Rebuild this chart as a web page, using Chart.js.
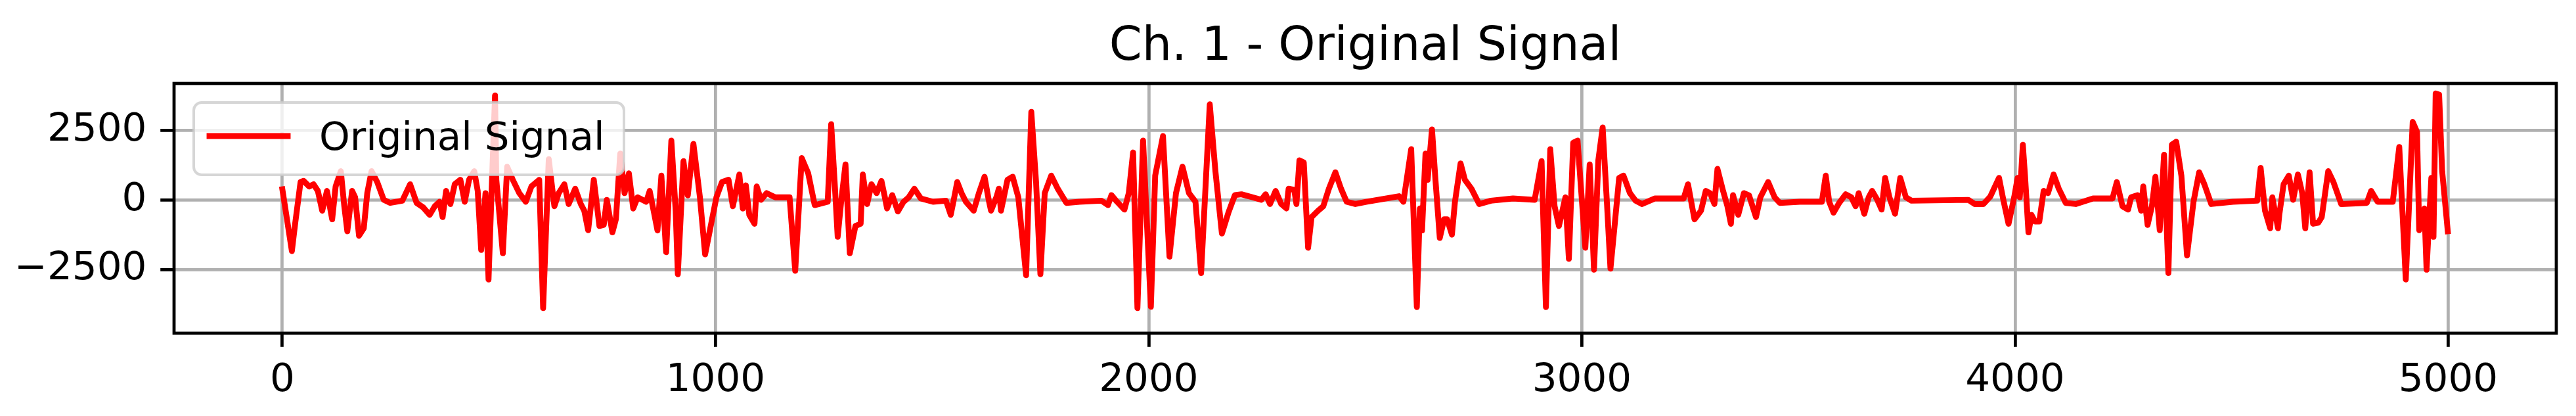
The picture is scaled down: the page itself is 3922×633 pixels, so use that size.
<!DOCTYPE html>
<html><head><meta charset="utf-8">
<script src="https://cdn.jsdelivr.net/npm/chart.js@4/dist/chart.umd.min.js"></script>
<style>html,body{margin:0;padding:0;background:#fff;overflow:hidden}#wrap{width:3922px;height:633px;position:relative}</style>
</head><body><div id="wrap"><canvas id="c" width="3922" height="633"></canvas></div>
<script>
const titleText = 'Ch. 1 - Original Signal';
const seriesLabel = 'Original Signal';
const xTicks = [0, 1000, 2000, 3000, 4000, 5000];
const yTicks = [-2500, 0, 2500];
const sampleIndex = [0,22,30,42,49,62,72,82,92,103,115,123,135,143,150,161,168,177,188,196,206,219,234,249,277,295,310,325,340,352,363,370,378,388,398,411,421,431,443,451,459,469,476,484,491,494,509,519,532,547,562,575,593,602,615,628,638,651,661,676,689,697,706,719,732,742,749,762,770,780,790,800,810,820,840,848,858,866,875,886,898,908,913,926,936,949,964,976,992,1002,1015,1030,1040,1055,1063,1070,1078,1090,1095,1105,1118,1138,1171,1184,1199,1214,1229,1259,1267,1275,1282,1290,1300,1310,1323,1335,1340,1350,1360,1372,1383,1391,1396,1408,1421,1434,1446,1459,1474,1502,1532,1543,1550,1558,1568,1578,1596,1608,1621,1631,1636,1649,1654,1659,1674,1686,1699,1717,1729,1740,1750,1760,1775,1790,1810,1840,1891,1906,1914,1927,1944,1954,1964,1974,1987,2005,2015,2033,2048,2063,2078,2093,2108,2121,2141,2154,2169,2184,2199,2214,2240,2260,2270,2280,2293,2306,2318,2323,2336,2341,2348,2358,2368,2376,2391,2403,2416,2431,2444,2457,2477,2502,2578,2588,2606,2619,2626,2631,2639,2644,2654,2662,2672,2682,2689,2700,2707,2720,2730,2745,2763,2790,2841,2891,2907,2917,2927,2937,2947,2962,2970,2980,2990,3008,3018,3028,3038,3048,3058,3066,3076,3086,3096,3111,3124,3139,3169,3235,3245,3260,3275,3286,3296,3306,3313,3326,3336,3344,3349,3361,3374,3386,3402,3412,3430,3445,3457,3503,3554,3563,3571,3581,3594,3609,3622,3632,3639,3652,3662,3670,3682,3692,3700,3710,3723,3735,3748,3761,3892,3907,3927,3943,3963,3973,3985,3998,4006,4011,4018,4023,4031,4038,4046,4056,4066,4076,4089,4101,4117,4140,4180,4225,4235,4248,4261,4268,4283,4291,4296,4306,4316,4324,4334,4344,4354,4362,4372,4384,4397,4412,4425,4437,4453,4503,4559,4567,4577,4589,4594,4607,4610,4620,4632,4642,4653,4663,4670,4680,4688,4700,4708,4723,4735,4753,4812,4822,4837,4872,4887,4902,4918,4928,4933,4945,4950,4961,4966,4971,4979,4986,4999];
const signalValues = [380,-1840,-800,640,680,480,560,320,-390,320,-700,480,1030,-230,-1130,320,90,-1290,-1020,240,1030,640,0,-110,-30,560,-110,-270,-540,-230,-70,-620,320,-150,560,720,-70,720,1030,320,-1800,240,-2860,720,3750,720,-1920,1190,720,240,-70,480,720,-3890,1460,-230,240,560,-150,400,-150,-390,-1090,720,-940,-900,0,-1170,-700,1660,240,950,-310,90,-70,320,-460,-1100,870,-1880,2130,-390,-2670,1390,160,2010,90,-1960,-700,90,640,720,-230,910,-310,520,-540,-860,480,0,240,90,90,-2550,1500,950,-190,-70,2720,640,-1330,-70,1270,-1920,-940,-860,910,-150,560,240,680,90,-310,170,-420,-70,90,400,50,-70,-30,-540,0,640,240,-70,-390,240,830,-30,-390,120,400,-390,720,830,90,-2710,3160,640,-2670,240,870,400,-110,-70,-30,-190,170,-70,-350,240,1700,-3890,2130,-3840,870,2290,-2040,240,1190,240,-70,-2630,3430,1030,-1210,-460,170,200,90,0,200,-150,320,-150,-310,400,360,-150,1420,1340,-1720,-620,-390,-230,400,990,400,-70,-150,-70,130,-70,1820,-3850,-310,-1100,1660,720,2530,720,-1370,-700,-700,-1250,-70,1310,720,400,-150,-30,50,0,1390,-3850,1820,-230,-940,90,-2120,2050,2130,-1720,1270,-2510,1420,2600,-150,-2470,-860,790,870,240,-30,-150,50,50,560,-700,-390,320,240,-150,1110,320,-230,-860,170,-540,240,160,-620,90,640,90,-110,-70,-70,870,-70,-460,-110,200,90,-230,240,-500,90,320,0,-350,790,90,-500,790,90,-30,0,-150,-150,120,790,0,-860,90,790,90,1980,870,-1170,-540,-780,-780,320,240,910,400,-110,-150,50,50,640,-230,-350,90,170,-390,480,-900,-230,830,-1090,1620,-2630,1980,2090,870,-2000,-70,990,560,-150,-70,-30,1150,-390,-1020,90,-1020,-540,560,870,0,910,240,-1020,990,-860,-820,-620,1030,640,-150,-110,320,-70,-70,1900,-2860,2800,2440,-1090,-310,-2510,790,-1330,3820,3780,1030,-1130];

const FONT = '"DejaVu Sans", "Liberation Sans", sans-serif';
const fmt = v => (v < 0 ? '\u2212' + Math.abs(v) : String(v));

const framePlugin = {
  id: 'framePlugin',
  afterDatasetsDraw(chart) {
    const ctx = chart.ctx, a = chart.chartArea;
    ctx.save();
    // axes frame
    ctx.strokeStyle = '#000';
    ctx.lineWidth = 4.76;
    ctx.lineJoin = 'miter';
    ctx.strokeRect(a.left, a.top, a.right - a.left, a.bottom - a.top);
    // legend
    const bx = 295, by = 156, bw = 655, bh = 110, r = 12;
    ctx.beginPath();
    ctx.moveTo(bx + r, by);
    ctx.lineTo(bx + bw - r, by);
    ctx.arcTo(bx + bw, by, bx + bw, by + r, r);
    ctx.lineTo(bx + bw, by + bh - r);
    ctx.arcTo(bx + bw, by + bh, bx + bw - r, by + bh, r);
    ctx.lineTo(bx + r, by + bh);
    ctx.arcTo(bx, by + bh, bx, by + bh - r, r);
    ctx.lineTo(bx, by + r);
    ctx.arcTo(bx, by, bx + r, by, r);
    ctx.closePath();
    ctx.fillStyle = 'rgba(255,255,255,0.8)';
    ctx.fill();
    ctx.strokeStyle = 'rgba(204,204,204,0.8)';
    ctx.lineWidth = 4;
    ctx.stroke();
    ctx.beginPath();
    ctx.strokeStyle = '#ff0000';
    ctx.lineWidth = 8.9;
    ctx.lineCap = 'square';
    ctx.moveTo(319, 207);
    ctx.lineTo(438, 207);
    ctx.stroke();
    ctx.fillStyle = '#000';
    ctx.font = '59.5px ' + FONT;
    ctx.textAlign = 'left';
    ctx.textBaseline = 'alphabetic';
    ctx.fillText(seriesLabel, 486, 228);
    // title
    ctx.font = '71.5px ' + FONT;
    ctx.textAlign = 'center';
    ctx.fillStyle = '#000';
    ctx.fillText(titleText, (a.left + a.right) / 2, 91);
    ctx.restore();
  }
};

new Chart(document.getElementById('c'), {
  type: 'line',
  data: {
    datasets: [{
      label: seriesLabel,
      data: sampleIndex.map((x, i) => ({ x: x, y: signalValues[i] })),
      borderColor: '#ff0000',
      backgroundColor: '#ff0000',
      borderWidth: 8.9,
      pointRadius: 0,
      fill: false,
      tension: 0,
      borderJoinStyle: 'round',
      borderCapStyle: 'square'
    }]
  },
  options: {
    responsive: false,
    animation: false,
    devicePixelRatio: 1,
    layout: { padding: { top: 127, right: 30, left: 0, bottom: 0 } },
    plugins: { legend: { display: false }, title: { display: false }, tooltip: { enabled: false } },
    scales: {
      x: {
        type: 'linear',
        min: -250,
        max: 5249.5,
        afterBuildTicks: s => { s.ticks = xTicks.map(v => ({ value: v })); },
        afterFit: s => { s.height = 126; },
        ticks: { callback: v => fmt(v), font: { family: FONT, size: 59.5 }, color: '#000', padding: 16, maxRotation: 0, autoSkip: false },
        grid: { color: '#b0b0b0', lineWidth: 4.76, drawTicks: true, tickLength: 20.8, tickColor: '#000', tickWidth: 4.76 },
        border: { display: false }
      },
      y: {
        type: 'linear',
        min: -4790,
        max: 4180,
        afterBuildTicks: s => { s.ticks = yTicks.map(v => ({ value: v })); },
        afterFit: s => { s.width = 265; },
        ticks: { callback: v => fmt(v), font: { family: FONT, size: 59.5 }, color: '#000', padding: 20.8, autoSkip: false },
        grid: { color: '#b0b0b0', lineWidth: 4.76, drawTicks: true, tickLength: 20.8, tickColor: '#000', tickWidth: 4.76 },
        border: { display: false }
      }
    }
  },
  plugins: [framePlugin]
});
</script>
</body></html>
